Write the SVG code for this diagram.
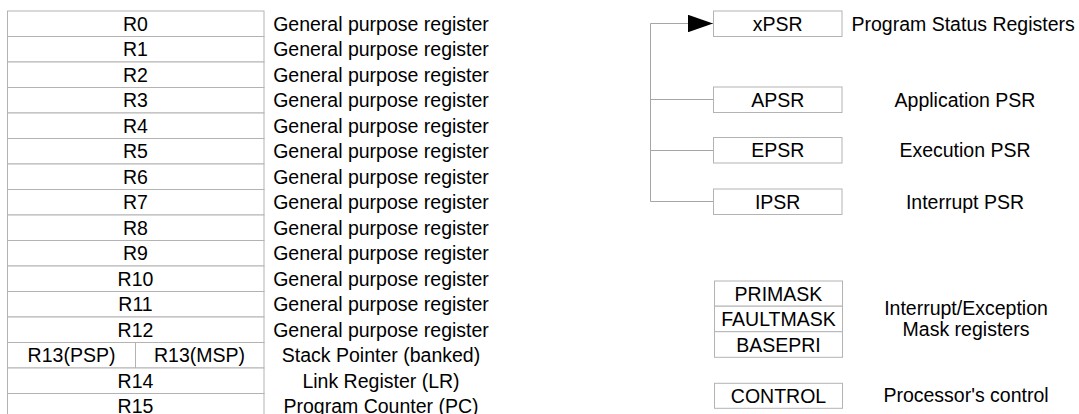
<svg xmlns="http://www.w3.org/2000/svg" width="1079" height="414" viewBox="0 0 1079 414">
<style>
.bg{fill:#ffffff}
.box{fill:#ffffff;stroke:#b3b3b3;stroke-width:1}
.t{font-family:"Liberation Sans",Arial,sans-serif;font-size:19.5px;fill:#000000}
.c{text-anchor:middle}
.conn{fill:none;stroke:#a6a6a6;stroke-width:1}
</style>
<defs>
<marker id="arr" viewBox="0 0 25 17.5" refX="25" refY="8.75" markerWidth="25" markerHeight="17.5" orient="auto" markerUnits="userSpaceOnUse">
<path d="M0,0 L25,8.75 L0,17.5 Z" fill="#000000"/>
</marker>
</defs>
<rect class="bg" x="0" y="0" width="1079" height="414"/>

<g id="R0"><rect class="box" x="7.5" y="11" width="256.5" height="25.5"/><text class="t c" x="135.5" y="30.7">R0</text><text class="t c" x="381" y="30.7">General purpose register</text></g>
<g id="R1"><rect class="box" x="7.5" y="36.5" width="256.5" height="25.5"/><text class="t c" x="135.5" y="56.2">R1</text><text class="t c" x="381" y="56.2">General purpose register</text></g>
<g id="R2"><rect class="box" x="7.5" y="62" width="256.5" height="25.5"/><text class="t c" x="135.5" y="81.7">R2</text><text class="t c" x="381" y="81.7">General purpose register</text></g>
<g id="R3"><rect class="box" x="7.5" y="87.5" width="256.5" height="25.5"/><text class="t c" x="135.5" y="107.2">R3</text><text class="t c" x="381" y="107.2">General purpose register</text></g>
<g id="R4"><rect class="box" x="7.5" y="113" width="256.5" height="25.5"/><text class="t c" x="135.5" y="132.7">R4</text><text class="t c" x="381" y="132.7">General purpose register</text></g>
<g id="R5"><rect class="box" x="7.5" y="138.5" width="256.5" height="25.5"/><text class="t c" x="135.5" y="158.2">R5</text><text class="t c" x="381" y="158.2">General purpose register</text></g>
<g id="R6"><rect class="box" x="7.5" y="164" width="256.5" height="25.5"/><text class="t c" x="135.5" y="183.7">R6</text><text class="t c" x="381" y="183.7">General purpose register</text></g>
<g id="R7"><rect class="box" x="7.5" y="189.5" width="256.5" height="25.5"/><text class="t c" x="135.5" y="209.2">R7</text><text class="t c" x="381" y="209.2">General purpose register</text></g>
<g id="R8"><rect class="box" x="7.5" y="215" width="256.5" height="25.5"/><text class="t c" x="135.5" y="234.7">R8</text><text class="t c" x="381" y="234.7">General purpose register</text></g>
<g id="R9"><rect class="box" x="7.5" y="240.5" width="256.5" height="25.5"/><text class="t c" x="135.5" y="260.2">R9</text><text class="t c" x="381" y="260.2">General purpose register</text></g>
<g id="R10"><rect class="box" x="7.5" y="266" width="256.5" height="25.5"/><text class="t c" x="135.5" y="285.7">R10</text><text class="t c" x="381" y="285.7">General purpose register</text></g>
<g id="R11"><rect class="box" x="7.5" y="291.5" width="256.5" height="25.5"/><text class="t c" x="135.5" y="311.2">R11</text><text class="t c" x="381" y="311.2">General purpose register</text></g>
<g id="R12"><rect class="box" x="7.5" y="317" width="256.5" height="25.5"/><text class="t c" x="135.5" y="336.7">R12</text><text class="t c" x="381" y="336.7">General purpose register</text></g>
<g id="R13"><rect class="box" x="7.5" y="342.5" width="128" height="25.5"/><rect class="box" x="135.5" y="342.5" width="128.5" height="25.5"/><text class="t c" x="71.5" y="362.2">R13(PSP)</text><text class="t c" x="199.5" y="362.2">R13(MSP)</text><text class="t c" x="381" y="362.2">Stack Pointer (banked)</text></g>
<g id="R14"><rect class="box" x="7.5" y="368" width="256.5" height="25.5"/><text class="t c" x="135.5" y="387.7">R14</text><text class="t c" x="381" y="387.7">Link Register (LR)</text></g>
<g id="R15"><rect class="box" x="7.5" y="393.5" width="256.5" height="25.5"/><text class="t c" x="135.5" y="413.2">R15</text><text class="t c" x="381" y="413.2">Program Counter (PC)</text></g>

<g id="connectors">
<path class="conn" d="M713,201.5 H650.5 V23.5 H713" marker-end="url(#arr)"/>
<path class="conn" d="M650.5,99.5 H713"/>
<path class="conn" d="M650.5,150.5 H713"/>
</g>

<g id="xPSR"><rect class="box" x="713.5" y="11" width="128.5" height="25.5"/><text class="t c" x="777.7" y="30.7">xPSR</text><text class="t" x="851.5" y="30.7">Program Status Registers</text></g>
<g id="APSR"><rect class="box" x="713.5" y="87" width="128.5" height="25.5"/><text class="t c" x="777.7" y="106.7">APSR</text><text class="t c" x="965" y="106.7">Application PSR</text></g>
<g id="EPSR"><rect class="box" x="713.5" y="137.5" width="128.5" height="25.5"/><text class="t c" x="777.7" y="157.2">EPSR</text><text class="t c" x="965" y="157.2">Execution PSR</text></g>
<g id="IPSR"><rect class="box" x="713.5" y="189" width="128.5" height="25.5"/><text class="t c" x="777.7" y="208.7">IPSR</text><text class="t c" x="965" y="208.7">Interrupt PSR</text></g>

<g id="MASK">
<rect class="box" x="714.5" y="281" width="128" height="25.2"/>
<rect class="box" x="714.5" y="306.2" width="128" height="25.5"/>
<rect class="box" x="714.5" y="331.7" width="128" height="25.6"/>
<text class="t c" x="778.5" y="300.7">PRIMASK</text>
<text class="t c" x="778.5" y="326.2">FAULTMASK</text>
<text class="t c" x="778.5" y="351.7">BASEPRI</text>
<text class="t c" x="966" y="315">Interrupt/Exception</text>
<text class="t c" x="966" y="336">Mask registers</text>
</g>
<g id="CONTROL"><rect class="box" x="714.5" y="383.3" width="128" height="25"/><text class="t c" x="778.5" y="402.7">CONTROL</text><text class="t c" x="966" y="402">Processor's control</text></g>
</svg>
